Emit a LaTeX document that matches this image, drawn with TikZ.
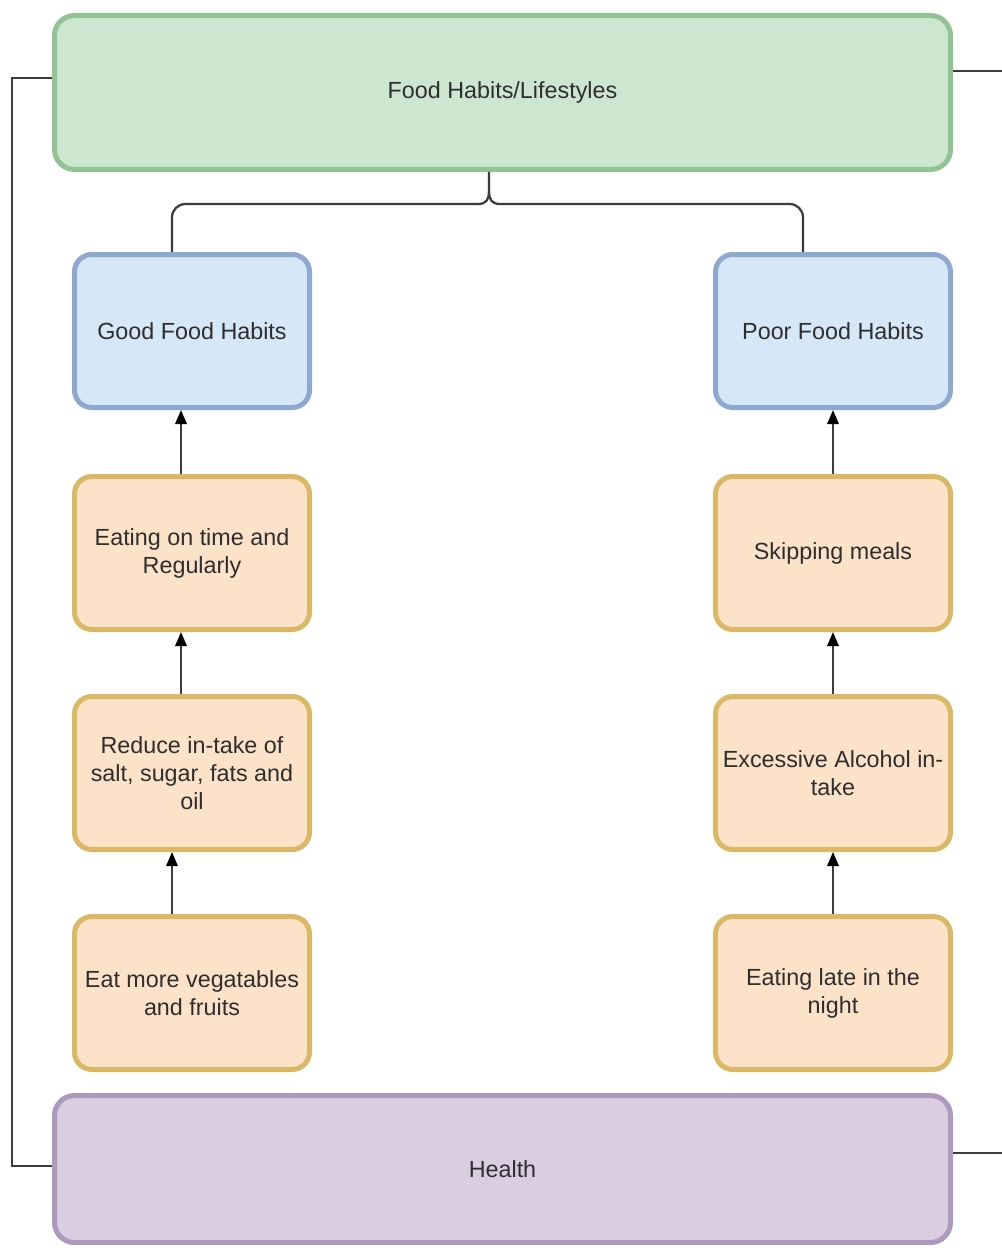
\documentclass[tikz,border=0pt]{standalone}
\usepackage{fontspec}
\setmainfont{Liberation Sans}
\usetikzlibrary{calc,arrows.meta}
\definecolor{gfill}{HTML}{CDE6D0}
\definecolor{gline}{HTML}{93C294}
\definecolor{bfill}{HTML}{D6E7F8}
\definecolor{bline}{HTML}{8EA8CF}
\definecolor{ofill}{HTML}{FCE2C8}
\definecolor{oline}{HTML}{DAB866}
\definecolor{pfill}{HTML}{DACDE2}
\definecolor{pline}{HTML}{AE98BD}
\definecolor{txt}{HTML}{2E2E2E}
\definecolor{cline}{HTML}{3C3C3C}
\begin{document}
\begin{tikzpicture}[x=0.75pt,y=-0.75pt,
  boxbase/.style={rectangle,line width=3.75pt,inner sep=0pt,align=center,
    font=\fontsize{17.5}{21}\selectfont,text=txt},
  bigbox/.style={boxbase,rounded corners=15pt,minimum width=672pt},
  greenbox/.style={bigbox,fill=gfill,draw=gline,minimum height=115.5pt},
  purplebox/.style={bigbox,fill=pfill,draw=pline,minimum height=110.25pt},
  smallbox/.style={boxbase,rounded corners=13pt,minimum width=176.25pt,minimum height=114.75pt},
  bluebox/.style={smallbox,fill=bfill,draw=bline},
  orangebox/.style={smallbox,fill=ofill,draw=oline},
  conn/.style={draw=cline,line width=1.7pt},
  arr/.style={conn,-{Triangle[length=10.5pt,width=8.5pt,fill=black,color=black]}}
]
\useasboundingbox (0,0) rectangle (1001,1248);
\fill[white] (0,0) rectangle (1001,1248);

\node[greenbox] (top) at (502.5,92.5) {Food Habits/Lifestyles};
\node[purplebox] (health) at (502.5,1169) {Health};

\node[bluebox] (gl) at (192,331) {Good Food Habits};
\node[bluebox] (gr) at (833,331) {Poor Food Habits};

\node[orangebox] (l1) at (192,553) {Eating on time and\\Regularly};
\node[orangebox] (l2) at (192,773) {Reduce in-take of\\salt, sugar, fats and\\oil};
\node[orangebox] (l3) at (192,993) {Eat more vegatables\\and fruits};

\node[orangebox] (r1) at (833,553) {Skipping meals};
\node[orangebox] (r2) at (833,773) {Excessive Alcohol in-\\take};
\node[orangebox] (r3) at (833,993) {Eating late in the\\night};

% brace connector
\coordinate (bt) at ($(top.south)+(-13.5,0)$);
\coordinate (glt) at ($(gl.north)+(-20,0)$);
\coordinate (grt) at ($(gr.north)+(-30,0)$);
\draw[conn] (glt) [rounded corners=10pt]-- (glt |- 0,204) [sharp corners]-- (478,204)
  .. controls (486,204) and (489,200) .. (489,191) -- (bt);
\draw[conn] (489,191) .. controls (489,200) and (492,204) .. (500,204)
  [rounded corners=10pt]-- (grt |- 0,204) -- (grt);

% arrows
\draw[arr] ($(l1.north)+(-11,0)$) -- ($(gl.south)+(-11,0)$);
\draw[arr] ($(l2.north)+(-11,0)$) -- ($(l1.south)+(-11,0)$);
\draw[arr] ($(l3.north)+(-20,0)$) -- ($(l2.south)+(-20,0)$);
\draw[arr] (r1.north) -- (gr.south);
\draw[arr] (r2.north) -- (r1.south);
\draw[arr] (r3.north) -- (r2.south);

% side connectors
\draw[conn] ($(top.west)+(0,-14.5)$) -- ++(-40,0) |- ($(health.west)+(0,-3)$);
\draw[conn] ($(top.east)+(0,-21.5)$) -- ++(60,0);
\draw[conn] ($(health.east)+(0,-16)$) -- ++(60,0);
\end{tikzpicture}
\end{document}
